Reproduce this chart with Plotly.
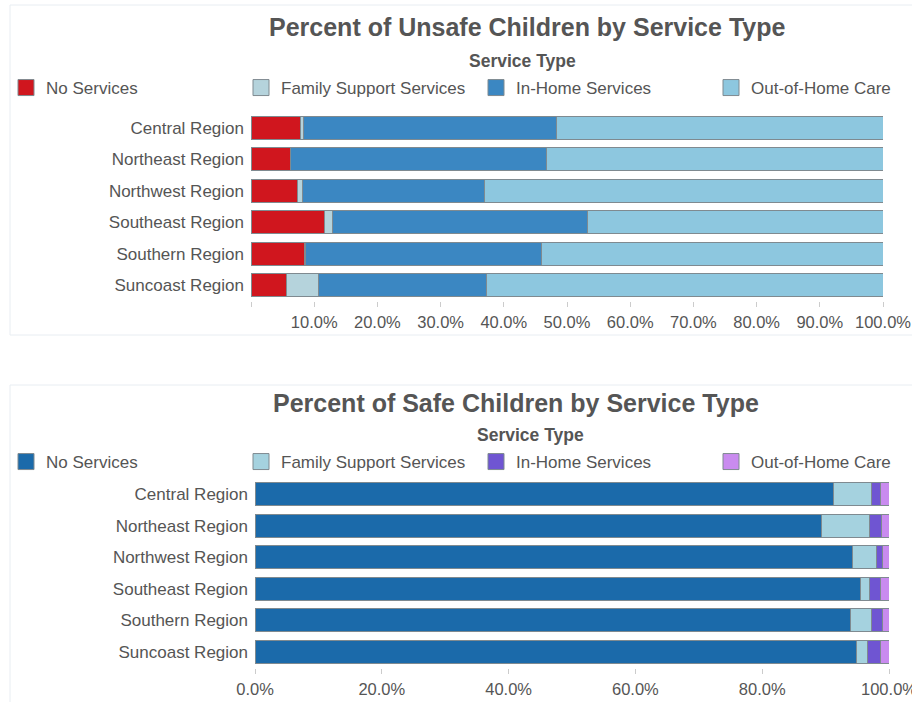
import plotly.graph_objects as go

regions = ["Central Region", "Northeast Region", "Northwest Region",
           "Southeast Region", "Southern Region", "Suncoast Region"]
service_types = ["No Services", "Family Support Services", "In-Home Services", "Out-of-Home Care"]

# Percent of unsafe children by service type
unsafe_no_services = [7.9, 6.2, 7.3, 11.7, 8.5, 5.6]
unsafe_family_support = [0.4, 0.1, 0.9, 1.2, 0.1, 5.1]
unsafe_in_home = [40.1, 40.5, 28.7, 40.3, 37.3, 26.6]
unsafe_out_of_home = [51.6, 53.2, 63.1, 46.8, 54.1, 62.7]

# Percent of safe children by service type
safe_no_services = [91.2, 89.4, 94.3, 95.5, 93.9, 94.9]
safe_family_support = [6.0, 7.5, 3.7, 1.5, 3.3, 1.7]
safe_in_home = [1.5, 1.9, 0.9, 1.7, 1.8, 2.0]
safe_out_of_home = [1.3, 1.2, 1.1, 1.3, 1.0, 1.4]

top_tickvals = [0, 10, 20, 30, 40, 50, 60, 70, 80, 90, 100]
top_ticktext = ["", "10.0%", "20.0%", "30.0%", "40.0%", "50.0%", "60.0%", "70.0%", "80.0%", "90.0%", "100.0%"]
bottom_tickvals = [0, 20, 40, 60, 80, 100]
bottom_ticktext = ["0.0%", "20.0%", "40.0%", "60.0%", "80.0%", "100.0%"]

top_colors = ["#d0161e", "#b5d3dc", "#3b87c2", "#8dc7df"]
bottom_colors = ["#1b6aaa", "#a5d2df", "#6f55d2", "#c98bef"]

W, H = 912, 702
FONT = "Liberation Sans, Arial, sans-serif"
TXT = "#555555"
OUTLINE = "#7f8a90"

def px(x):
    return x / W

def py(y):
    return 1 - y / H

fig = go.Figure()

top_series = [unsafe_no_services, unsafe_family_support, unsafe_in_home, unsafe_out_of_home]
bottom_series = [safe_no_services, safe_family_support, safe_in_home, safe_out_of_home]

def add_panel(series, colors, xa, ya, leg):
    for i, (name, vals, col) in enumerate(zip(service_types, series, colors)):
        fig.add_trace(go.Bar(
            y=regions, x=vals, orientation="h", name=name, showlegend=False,
            marker=dict(color=col, line=dict(color=OUTLINE, width=1)),
            xaxis=xa, yaxis=ya,
            hovertemplate="%{y}<br>" + name + ": %{x:.1f}%<extra></extra>"))
        fig.add_trace(go.Scatter(
            x=[None], y=[None], mode="markers", name=name, legend=leg,
            legendwidth=(190 if i < 3 else 155),
            marker=dict(symbol="square", size=16, color=col, line=dict(color=OUTLINE, width=1)),
            xaxis=xa, yaxis=ya, hoverinfo="skip"))

add_panel(top_series, top_colors, "x", "y", "legend")
add_panel(bottom_series, bottom_colors, "x2", "y2", "legend2")

xcommon = dict(range=[0, 100], showgrid=False, zeroline=False, showline=False,
               ticks="outside", ticklen=5, tickwidth=1, tickcolor="#cccccc",
               tickfont=dict(family=FONT, size=16.5, color=TXT),
               ticklabelstandoff=1, ticklabeloverflow="allow",
               automargin=False, fixedrange=True)
ycommon = dict(autorange="reversed", showgrid=False, zeroline=False, showline=False,
               ticks="", tickfont=dict(family=FONT, size=17, color=TXT),
               ticklabelstandoff=6, automargin=False, fixedrange=True)

legcommon = dict(orientation="h", xanchor="left", yanchor="middle",
                 entrywidthmode="pixels", itemsizing="trace",
                 font=dict(family=FONT, size=17, color=TXT),
                 bgcolor="rgba(0,0,0,0)", borderwidth=0, traceorder="normal")

fig.update_layout(
    width=W, height=H, autosize=False,
    margin=dict(l=0, r=0, t=0, b=0, pad=0, autoexpand=False),
    paper_bgcolor="white", plot_bgcolor="white",
    barmode="stack", bargap=0.27,
    xaxis=dict(domain=[px(251), px(883)], anchor="y",
               tickvals=top_tickvals, ticktext=top_ticktext, **xcommon),
    yaxis=dict(domain=[py(300.7), py(112.3)], anchor="x", **ycommon),
    xaxis2=dict(domain=[px(255), px(889)], anchor="y2",
                tickvals=bottom_tickvals, ticktext=bottom_ticktext, **xcommon),
    yaxis2=dict(domain=[py(667.8), py(478.2)], anchor="x2", **ycommon),
    legend=dict(x=px(6), y=py(88), **legcommon),
    legend2=dict(x=px(6), y=py(462), **legcommon),
    showlegend=True,
    annotations=[
        dict(text="<b>Percent of Unsafe Children by Service Type</b>", x=px(527), y=py(27),
             xref="paper", yref="paper", showarrow=False, xanchor="center", yanchor="middle",
             font=dict(family=FONT, size=25, color="#555555")),
        dict(text="<b>Service Type</b>", x=px(522), y=py(61),
             xref="paper", yref="paper", showarrow=False, xanchor="center", yanchor="middle",
             font=dict(family=FONT, size=17.5, color="#555555")),
        dict(text="<b>Percent of Safe Children by Service Type</b>", x=px(516), y=py(403),
             xref="paper", yref="paper", showarrow=False, xanchor="center", yanchor="middle",
             font=dict(family=FONT, size=25, color="#555555")),
        dict(text="<b>Service Type</b>", x=px(530), y=py(435),
             xref="paper", yref="paper", showarrow=False, xanchor="center", yanchor="middle",
             font=dict(family=FONT, size=17.5, color="#555555")),
    ],
    shapes=[
        dict(type="rect", xref="paper", yref="paper", x0=px(10), x1=px(920), y0=py(335), y1=py(5),
             line=dict(color="#e8edf2", width=1), fillcolor="rgba(0,0,0,0)", layer="below"),
        dict(type="rect", xref="paper", yref="paper", x0=px(10), x1=px(920), y0=py(710), y1=py(385),
             line=dict(color="#e8edf2", width=1), fillcolor="rgba(0,0,0,0)", layer="below"),
    ],
)

fig.write_html("out.html", config={"displayModeBar": False},
               post_script="document.body.style.margin='0';")
